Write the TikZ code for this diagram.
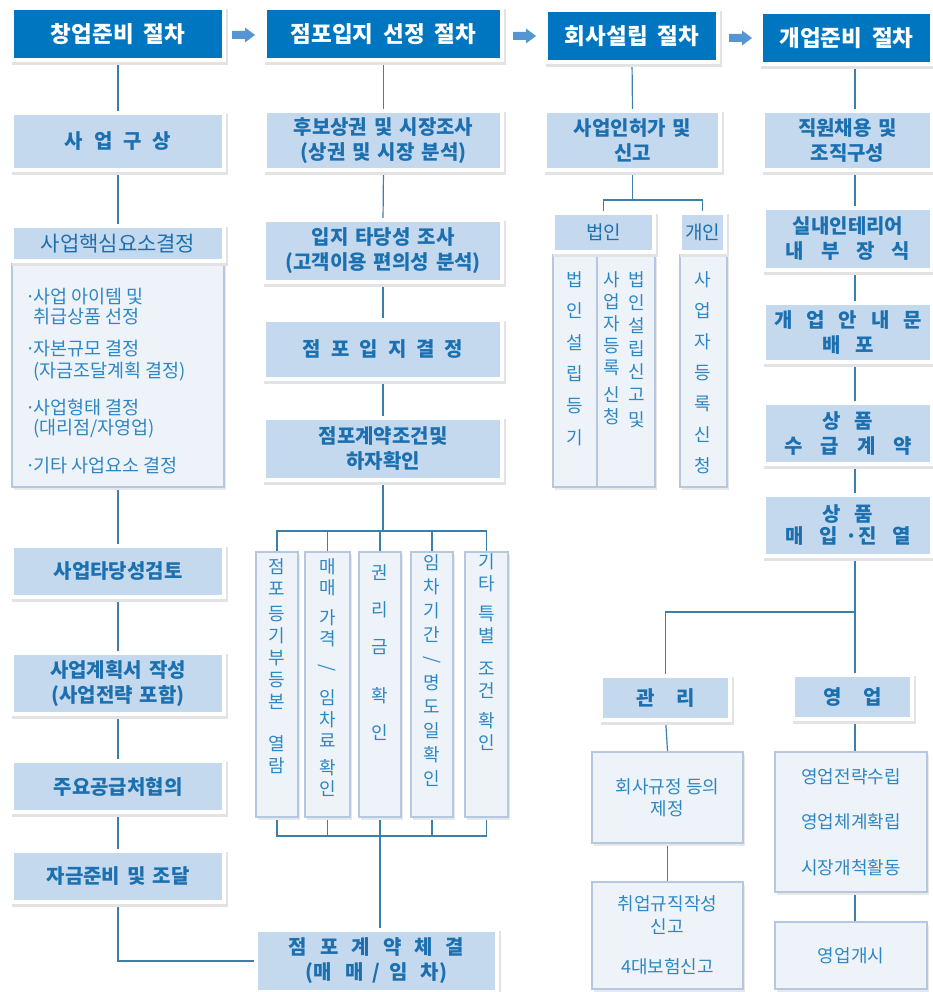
\documentclass[tikz,border=0pt]{standalone}
\usepackage{fontspec}
\usepackage{graphicx}
\setmainfont{Noto Sans CJK KR}
\definecolor{hdr}{RGB}{0,118,192}
\definecolor{lbf}{RGB}{197,217,238}
\definecolor{lbt}{RGB}{28,112,176}
\definecolor{wbf}{RGB}{238,243,250}
\definecolor{wbd}{RGB}{182,200,224}
\definecolor{wbt}{RGB}{45,135,195}
\definecolor{lnc}{RGB}{60,128,170}
\definecolor{arc}{RGB}{85,150,210}
\newcommand\ls[1]{\hspace{#1pt}}
\newcommand\bul{\makebox[8pt][l]{·}}
\newcommand\ind{\hspace*{8pt}}
\newcommand\vsl{\rotatebox[origin=c]{-90}{/}}
\newcommand\bx[7]{%
 \pgfmathsetmacro\bxcx{(#2+#4)/2}%
 \pgfmathsetmacro\bxcy{(#3+#5)/2}%
 \pgfmathsetmacro\bxw{#4-#2}%
 \pgfmathsetmacro\bxh{#5-#3}%
 \node[#6, minimum width=\bxw pt, minimum height=\bxh pt] (#1) at (\bxcx,\bxcy) {#7};}
\pgfdeclarelayer{back}
\pgfdeclarelayer{bg}
\pgfsetlayers{back,bg,main}
\tikzset{
 shd/.style={preaction={fill=black!11, draw=black!11, line width=8pt, transform canvas={shift={(2pt,-3pt)}}},
             preaction={draw=white, line width=8pt}},
 wshd/.style={preaction={fill=black!9, transform canvas={shift={(2pt,-2.5pt)}}}},
 hd/.style={shd, fill=hdr, text=white, font=\fontsize{22.5}{26}\selectfont\bfseries, inner sep=0pt, align=center},
 lb/.style={shd, fill=lbf, text=lbt, font=\fontsize{20}{25}\selectfont\bfseries, inner sep=0pt, align=center},
 lbn/.style={shd, fill=lbf, text=lbt, font=\fontsize{19}{23}\selectfont, inner sep=0pt, align=center},
 wb/.style={wshd, fill=wbf, draw=wbd, line width=2pt, text=wbt, font=\fontsize{18}{22}\selectfont, inner sep=0pt, align=center},
 it/.style={anchor=west, align=left, text=wbt, inner sep=0pt},
 vt/.style={text=wbt, inner sep=0pt, align=center, anchor=north},
 ln/.style={draw=lnc, line width=1.2pt},
}
\begin{document}
\begin{tikzpicture}[x=1pt,y=-1pt]
\useasboundingbox (0,0) rectangle (932,992);
\begin{pgfonlayer}{back}
\fill[white] (0,0) rectangle (932,992);
\end{pgfonlayer}

% headers
\bx{h1}{14}{10}{222}{58}{hd}{창업준비\ls{10}절차}
\bx{h2}{267}{10}{500}{58}{hd}{점포입지\ls{10}선정\ls{10}절차}
\bx{h3}{548}{12}{716}{60}{hd}{회사설립\ls{10}절차}
\bx{h4}{763}{14}{930}{62}{hd}{개업준비\ls{10}절차}
\foreach \ax/\ay in {232/35, 513/36, 729/38}
  \fill[arc] (\ax,\ay-4) -- ++(13,0) -- ++(0,-3.5) -- ++(10,7.5) -- ++(-10,7.5) -- ++(0,-3.5) -- ++(-13,0) -- cycle;

% column 1
\bx{c1a}{14}{115}{222}{168}{lb}{사\ls{11}업\ls{11}구\ls{11}상}
\bx{c1bb}{12}{262}{224}{487}{wb}{}
\bx{c1b}{14}{228}{222}{259}{lb, font=\fontsize{21}{25}\selectfont}{사업핵심요소결정}
\node[it, font=\fontsize{18.5}{20}\selectfont] (k1) at (25,307) {\bul 사업 아이템 및\\\ind 취급상품 선정};
\node[it, font=\fontsize{18.5}{22}\selectfont] (k2) at (25,361) {\bul 자본규모 결정\\\ind (자금조달계획 결정)};
\node[it, font=\fontsize{18.5}{20}\selectfont] (k3) at (25,419) {\bul 사업형태 결정\\\ind (대리점/자영업)};
\node[it, font=\fontsize{18.5}{20}\selectfont] (k4) at (25,466) {\bul 기타 사업요소 결정};
\bx{c1c}{14}{548}{222}{595}{lb}{사업타당성검토}
\bx{c1d}{14}{655}{222}{712}{lb}{사업계획서\ls{7}작성\\(사업전략\ls{7}포함)}
\bx{c1e}{14}{763}{222}{810}{lb}{주요공급처협의}
\bx{c1f}{14}{853}{222}{900}{lb}{자금준비\ls{7}및\ls{7}조달}

% column 2
\bx{c2a}{267}{113}{500}{168}{lb}{후보상권\ls{7}및\ls{7}시장조사\\(상권\ls{7}및\ls{7}시장\ls{7}분석)}
\bx{c2b}{266}{222}{500}{280}{lb}{입지\ls{7}타당성\ls{7}조사\\(고객이용\ls{7}편의성\ls{7}분석)}
\bx{c2c}{266}{322}{500}{377}{lb}{점\ls{10}포\ls{10}입\ls{10}지\ls{10}결\ls{10}정}
\bx{c2d}{266}{420}{500}{478}{lb}{점포계약조건및\\하자확인}
\bx{vb1}{256}{552}{298}{817}{wb}{}
\bx{vb2}{305}{552}{350}{817}{wb}{}
\bx{vb3}{359}{552}{401}{817}{wb}{}
\bx{vb4}{411}{552}{453}{817}{wb}{}
\bx{vb5}{465}{552}{508}{817}{wb}{}
\node[vt, font=\fontsize{18}{22}\selectfont] (t1) at (277,558) {점\\포\\[3pt]등\\기\\부\\등\\본\\[20pt]열\\람};
\node[vt, font=\fontsize{18}{21.5}\selectfont] (t2) at (327.5,558) {매\\매\\[8pt]가\\격\\[6pt]\vsl\\[10pt]임\\차\\료\\[5pt]확\\인};
\node[vt, font=\fontsize{18}{37}\selectfont] (t3) at (380,564) {권\\리\\금\\[12pt]확\\인};
\node[vt, font=\fontsize{18}{24}\selectfont] (t4) at (432,554) {임\\차\\기\\간\\\vsl\\명\\도\\일\\확\\인};
\node[vt, font=\fontsize{18}{22}\selectfont] (t5) at (486.5,553) {기\\타\\[8pt]특\\별\\[11pt]조\\건\\[8pt]확\\인};
\bx{c2z}{258}{932}{495}{990}{lb}{점\ls{13}포\ls{13}계\ls{13}약\ls{13}체\ls{13}결\\(매\ls{13}매\ls{9}/\ls{9}임\ls{13}차)}

% column 3
\bx{c3a}{547}{113}{718}{168}{lb}{사업인허가\ls{7}및\\신고}
\bx{bia}{553}{255}{597}{487}{wb}{}
\bx{bib}{597}{255}{655}{487}{wb}{}
\bx{gib}{680}{255}{727}{487}{wb}{}
\bx{bi}{555}{215}{652}{250}{lbn}{법인}
\bx{gi}{682}{215}{723}{250}{lbn}{개인}
\node[vt, font=\fontsize{18}{31.6}\selectfont] (u1) at (575,271) {법\\인\\설\\립\\등\\기};
\node[vt, font=\fontsize{18}{22}\selectfont] (u2) at (612,271) {사\\업\\자\\등\\록\\[5pt]신\\청};
\node[vt, font=\fontsize{18}{23}\selectfont] (u3) at (637,271) {법\\인\\설\\립\\신\\고\\[2pt]및};
\node[vt, font=\fontsize{18}{31}\selectfont] (u4) at (703,271) {사\\업\\자\\등\\록\\신\\청};

% column 4
\bx{c4a}{765}{113}{930}{168}{lb}{직원채용\ls{7}및\\조직구성}
\bx{c4b}{766}{210}{930}{268}{lb}{실내인테리어\\내\ls{17}부\ls{17}장\ls{17}식}
\bx{c4c}{766}{305}{930}{360}{lb}{개\ls{14}업\ls{14}안\ls{14}내\ls{14}문\\배\ls{14}포}
\bx{c4d}{766}{405}{930}{462}{lb}{상\ls{14}품\\수\ls{18}급\ls{18}계\ls{18}약}
\bx{c4e}{766}{497}{930}{554}{lb, font=\fontsize{20}{22}\selectfont\bfseries}{상\ls{14}품\\매\ls{16}입\ls{8}·진\ls{16}열}
\bx{gw}{603}{678}{728}{718}{lb}{관\ls{22}리}
\bx{yu}{795}{677}{910}{717}{lb}{영\ls{22}업}
\bx{gw1}{592}{752}{743}{843}{wb}{회사규정 등의\\제정}
\bx{gw2}{592}{882}{743}{989}{wb, font=\fontsize{18}{23}\selectfont}{취업규직작성\\신고\\[17pt]4대보험신고}
\bx{yu1}{775}{752}{927}{892}{wb, font=\fontsize{18}{45.5}\selectfont}{영업전략수립\\영업체계확립\\시장개척활동}
\bx{yu2}{775}{922}{927}{989}{wb}{영업개시}

\coordinate (j3) at (632.5,200);
\coordinate (b2) at (383,531);
\coordinate (b3) at (380,836);
\coordinate (x4) at (855,0);
\coordinate (j4) at (855,612);

\begin{pgfonlayer}{bg}
% column 1
\draw[ln] (h1.south) -- (c1a.north);
\draw[ln] (c1a.south) -- (c1b.north);
\draw[ln] (c1bb.south) -- (c1c.north);
\draw[ln] (c1c.south) -- (c1d.north);
\draw[ln] (c1d.south) -- (c1e.north);
\draw[ln] (c1e.south) -- (c1f.north);
\draw[ln] (c1f.south) |- (c2z.west);
% column 2
\draw[ln] (h2.south) -- (c2a.north);
\draw[ln] (c2a.south) -- (c2b.north);
\draw[ln] (c2b.south) -- (c2c.north);
\draw[ln] (c2c.south) -- (c2d.north);
\draw[ln] (c2d.south) -- (b2);
\draw[ln] (vb1.north) |- (b2) -| (vb5.north);
\draw[ln] (vb2.north) -- (vb2.north |- b2);
\draw[ln] (vb3.north) -- (vb3.north |- b2);
\draw[ln] (vb4.north) -- (vb4.north |- b2);
\draw[ln] (vb1.south) |- (b3) -| (vb5.south);
\draw[ln] (vb2.south) -- (vb2.south |- b3);
\draw[ln] (vb4.south) -- (vb4.south |- b3);
\draw[ln] (vb3.south) -- (vb3.south |- c2z.north);
% column 3
\draw[ln] (h3.south) -- (c3a.north);
\draw[ln] (c3a.south) -- (j3);
\draw[ln] (bi.north) |- (j3) -| (gi.north);
% column 4
\draw[ln] (h4.south -| x4) -- (c4a.north -| x4);
\draw[ln] (c4a.south -| x4) -- (c4b.north -| x4);
\draw[ln] (c4b.south -| x4) -- (c4c.north -| x4);
\draw[ln] (c4c.south -| x4) -- (c4d.north -| x4);
\draw[ln] (c4d.south -| x4) -- (c4e.north -| x4);
\draw[ln] (c4e.south -| x4) -- (j4);
\draw[ln] (j4) -| (gw.north);
\draw[ln] (j4) -- (yu.north -| x4);
\draw[ln] (gw.south) -- (gw1.north);
\draw[ln] (gw1.south) -- (gw2.north);
\draw[ln] (yu.south -| x4) -- (yu1.north -| x4);
\draw[ln] (yu1.south -| x4) -- (yu2.north -| x4);
\end{pgfonlayer}
\end{tikzpicture}
\end{document}
